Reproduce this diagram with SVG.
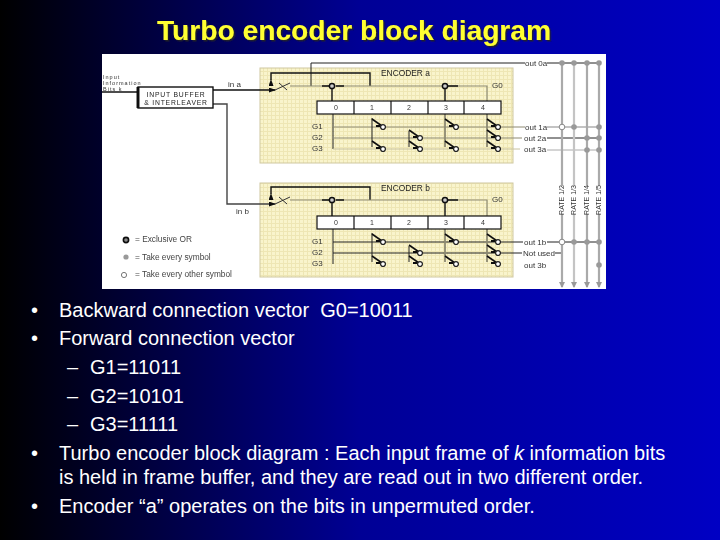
<svg xmlns="http://www.w3.org/2000/svg" width="720" height="540" viewBox="0 0 720 540">
<defs>
<linearGradient id="bg" x1="0" y1="0" x2="1" y2="0"><stop offset="0" stop-color="#000"/><stop offset="0.5" stop-color="#000095"/><stop offset="1" stop-color="#0000c4"/></linearGradient>
<pattern id="grain" width="4" height="4" patternUnits="userSpaceOnUse"><rect width="4" height="4" fill="#f9f4cc"/><path d="M0 3.5H4M3.500 0V4" stroke="#eee6b4" stroke-width="1"/></pattern>
<filter id="soft" x="-2%" y="-2%" width="104%" height="104%"><feGaussianBlur stdDeviation="0.6"/></filter>
<filter id="shadow" x="-5%" y="-20%" width="110%" height="150%"><feDropShadow dx="1.5" dy="1.5" stdDeviation="0.5" flood-color="#222" flood-opacity="0.9"/></filter>
<marker id="ah" markerUnits="userSpaceOnUse" markerWidth="7" markerHeight="5" refX="6" refY="2.500" orient="auto"><path d="M0 0L7 2.500L0 5Z" fill="#111"/></marker>
<marker id="gh" markerUnits="userSpaceOnUse" markerWidth="6" markerHeight="6" refX="5" refY="3" orient="auto"><path d="M0 0L6 3L0 6Z" fill="#999"/></marker>
<g id="tap"><path d="M-11 -8L-1 -1" stroke="#111" stroke-width="1.6" fill="none"/><path d="M-7 -1H-3" stroke="#111" stroke-width="2" fill="none"/><circle r="2.400" fill="#fff" stroke="#222" stroke-width="1.300"/></g>
<circle id="xor" r="2.600" fill="#ccc" stroke="#111" stroke-width="1.500"/>
<circle id="gn" r="2.800" fill="#999"/>
</defs>
<style>
.l{font-family:"Liberation Sans",Arial,sans-serif;font-size:20px;fill:#fff}
.d{font-family:"Liberation Sans",Arial,sans-serif;font-size:8px;fill:#333}
.i{font-family:"Liberation Sans",Arial,sans-serif;font-size:5.500px;letter-spacing:1px;fill:#333}
.c{font-family:"Liberation Sans",Arial,sans-serif;font-size:7px;fill:#333;text-anchor:middle}
.k{font-family:"Liberation Sans",Arial,sans-serif;font-size:8.300px;fill:#444}
.v{font-family:"Liberation Sans",Arial,sans-serif;font-size:7px;fill:#333;text-anchor:middle}
.lbl{font-family:"Liberation Sans",Arial,sans-serif;font-size:8.400px;fill:#222}
.b{font-family:"Liberation Sans",Arial,sans-serif;font-size:6.800px;letter-spacing:0.800px;fill:#222;text-anchor:middle}
.w{fill:none;stroke:#222;stroke-width:1}
.t{fill:none;stroke:#111;stroke-width:1.400}
.g{fill:none;stroke:#8d8a72;stroke-width:1.200}
.r{fill:none;stroke:#aaa;stroke-width:2.200}
.pan{fill:url(#grain);stroke:#cfc8a0;stroke-width:1}
.cell{fill:#fff;stroke:#111;stroke-width:1.200}
</style>
<rect width="720" height="540" fill="url(#bg)"/>
<text id="title" x="354" y="40" text-anchor="middle" filter="url(#shadow)" style="font-family:'Liberation Sans',Arial,sans-serif;font-weight:bold;font-size:28.200px;fill:#ffff33">Turbo encoder block diagram</text>
<rect x="102" y="54" width="504" height="235" fill="#fff"/>
<g filter="url(#soft)">
<rect class="pan" x="260" y="68" width="253" height="95"/>
<rect class="pan" x="260" y="183" width="253" height="94"/>
<g id="connectors">
<path class="t" d="M102 92H138"/>
<path class="t" d="M213 90H275" marker-end="url(#ah)"/>
<path class="t" d="M213 104H227V204H275" style="stroke:#444" marker-end="url(#ah)"/>
<path class="w" d="M311 86V63H525M547 63H599"/>
<path class="t" d="M271 80V73H370V86" marker-start="url(#ah)"/>
<path class="g" d="M290 86H487V101"/>
<path class="t" d="M322 86H329M336 86H344M332 89V101"/>
<path class="t" d="M445 101V88M448 86H458"/>
<path d="M275 90L290 83M279 83L287 90" stroke="#333" stroke-width="1" fill="none"/>
<path class="w" d="M333 114V149"/>
<path class="g" d="M333 127H525M333 138H522"/>
<path d="M333 149H520" stroke="#c8c2a0" stroke-width="1" fill="none"/>
<path class="w" d="M372 118V147M409 131V147"/>
<path class="g" d="M445 114V147M487 114V147" style="stroke-width:1.800"/>
<path class="t" d="M271 194V187H370V200" marker-start="url(#ah)"/>
<path class="g" d="M290 200H487V216"/>
<path class="t" d="M322 200H329M336 200H344M332 203V216"/>
<path class="t" d="M445 216V203M448 200H458"/>
<path d="M275 204L290 197M279 197L287 204" stroke="#333" stroke-width="1" fill="none"/>
<path class="w" d="M333 229V264"/>
<path class="w" d="M333 242H523M333 253H522"/>
<path class="w" d="M372 233V262M409 246V262"/>
<path class="g" d="M445 229V262M487 229V262" style="stroke-width:1.800"/>
<path d="M547 127H599" stroke="#888" stroke-width="1.200" fill="none"/>
<path class="w" d="M547 138H599"/>
<path d="M547 150H599" stroke="#aaa" fill="none"/>
<path class="w" d="M547 242H599M555 253H562"/>
<path class="r" d="M562 63V186M562 214V287" marker-end="url(#gh)"/>
<path class="r" d="M574 63V186M574 214V287" style="stroke:#c4c4c4" marker-end="url(#gh)"/>
<path class="r" d="M587 63V186M587 214V287" marker-end="url(#gh)"/>
<path class="r" d="M599 63V186M599 214V287" marker-end="url(#gh)"/>
</g>
<g id="buffer"><rect x="138" y="87" width="75" height="21" fill="#fff" stroke="#111" stroke-width="1.400"/><path d="M138 87V108" stroke="#111" stroke-width="3"/><text class="b" x="176" y="96.500">INPUT BUFFER</text><text class="b" x="176" y="104.500">&amp; INTERLEAVER</text></g>
<g id="encoder-a">
<rect class="cell" x="317" y="101" width="184" height="13"/>
<path class="cell" d="M354 101V114M391 101V114M428 101V114M464 101V114"/>
<text class="c" x="336" y="110">0</text><text class="c" x="372" y="110">1</text><text class="c" x="409" y="110">2</text><text class="c" x="446" y="110">3</text><text class="c" x="483" y="110">4</text>
<text class="lbl" x="381" y="76">ENCODER a</text><text class="d" x="492" y="88">G0</text>
<text class="d" x="312" y="129">G1</text><text class="d" x="312" y="140">G2</text><text class="d" x="312" y="151">G3</text>
<use href="#xor" x="332" y="86"/><use href="#xor" x="445" y="86"/>
<use href="#tap" x="383" y="127"/><use href="#tap" x="383" y="149"/><use href="#tap" x="420" y="138"/><use href="#tap" x="420" y="149"/><use href="#tap" x="456" y="127"/><use href="#tap" x="456" y="149"/><use href="#tap" x="498" y="127"/><use href="#tap" x="498" y="138"/><use href="#tap" x="498" y="149"/>
</g>
<g id="encoder-b">
<rect class="cell" x="317" y="216" width="184" height="13"/>
<path class="cell" d="M354 216V229M391 216V229M428 216V229M464 216V229"/>
<text class="c" x="336" y="225">0</text><text class="c" x="372" y="225">1</text><text class="c" x="409" y="225">2</text><text class="c" x="446" y="225">3</text><text class="c" x="483" y="225">4</text>
<text class="lbl" x="381" y="191">ENCODER b</text><text class="d" x="492" y="202">G0</text>
<text class="d" x="312" y="244">G1</text><text class="d" x="312" y="255">G2</text><text class="d" x="312" y="266">G3</text>
<use href="#xor" x="332" y="200"/><use href="#xor" x="445" y="200"/>
<use href="#tap" x="383" y="242"/><use href="#tap" x="383" y="264"/><use href="#tap" x="420" y="253"/><use href="#tap" x="420" y="264"/><use href="#tap" x="456" y="242"/><use href="#tap" x="456" y="264"/><use href="#tap" x="498" y="242"/><use href="#tap" x="498" y="253"/><use href="#tap" x="498" y="264"/>
</g>
<g id="outputs">
<text class="d" x="525" y="65.500">out 0a</text><text class="d" x="525" y="129.500">out 1a</text><text class="d" x="524" y="140.500">out 2a</text><text class="d" x="524" y="152">out 3a</text>
<text class="d" x="524" y="244.500">out 1b</text><text class="d" x="523" y="255.500">Not used</text><text class="d" x="524" y="267.500">out 3b</text>
<use href="#gn" x="562" y="63"/><use href="#gn" x="574" y="63"/><use href="#gn" x="587" y="63"/><use href="#gn" x="599" y="63"/>
<circle cx="562" cy="127" r="2.800" fill="#fff" stroke="#888"/><use href="#gn" x="574" y="127"/><use href="#gn" x="599" y="127"/>
<use href="#gn" x="587" y="138"/><use href="#gn" x="599" y="138"/><use href="#gn" x="587" y="150"/><use href="#gn" x="599" y="150"/>
<circle cx="562" cy="242" r="2.800" fill="#fff" stroke="#888"/><use href="#gn" x="574" y="242"/><use href="#gn" x="587" y="242"/><use href="#gn" x="599" y="242"/><use href="#gn" x="599" y="265"/>
<text class="v" transform="translate(564 200) rotate(-90)">RATE 1/2</text>
<text class="v" transform="translate(576 200) rotate(-90)">RATE 1/3</text>
<text class="v" transform="translate(589 200) rotate(-90)">RATE 1/4</text>
<text class="v" transform="translate(601 200) rotate(-90)">RATE 1/5</text>
</g>
<g id="labels">
<text class="i" x="103" y="78.500">Input</text><text class="i" x="103" y="84.800">Information</text><text class="i" x="103" y="91">Bits k</text>
<text class="d" x="228" y="87">in a</text><text class="d" x="236" y="214">in b</text>
</g>
<g id="legend">
<circle cx="126" cy="240" r="2.600" fill="#888" stroke="#111" stroke-width="1.600"/><circle cx="126" cy="257" r="2.600" fill="#999"/><circle cx="124" cy="275" r="2.600" fill="#fff" stroke="#777"/>
<text class="k" x="135" y="242">= Exclusive OR</text><text class="k" x="135" y="259.500">= Take every symbol</text><text class="k" x="135" y="277">= Take every other symbol</text>
</g>
</g>
<g id="bullets">
<text class="l" x="31" y="317">•</text><text class="l" x="59" y="317" xml:space="preserve">Backward connection vector  G0=10011</text>
<text class="l" x="31" y="345">•</text><text class="l" x="59" y="345">Forward connection vector</text>
<text class="l" x="67" y="374">–</text><text class="l" x="90" y="374">G1=11011</text>
<text class="l" x="67" y="403">–</text><text class="l" x="90" y="403">G2=10101</text>
<text class="l" x="67" y="431">–</text><text class="l" x="90" y="431">G3=11111</text>
<text class="l" x="31" y="460">•</text><text class="l" x="59" y="460">Turbo encoder block diagram : Each input frame of <tspan font-style="italic">k</tspan> information bits</text>
<text class="l" x="59" y="484">is held in frame buffer, and they are read out in two different order.</text>
<text class="l" x="31" y="513">•</text><text class="l" x="59" y="513">Encoder “a” operates on the bits in unpermuted order.</text>
</g>
</svg>
